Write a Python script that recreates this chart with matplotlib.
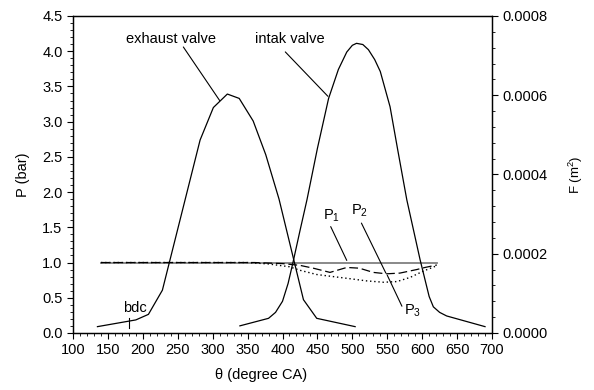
import matplotlib
matplotlib.use('Agg')
import numpy as np
import matplotlib.pyplot as plt
from matplotlib.ticker import MultipleLocator, FormatStrFormatter

plt.rcParams['font.family'] = ['Liberation Sans', 'DejaVu Sans']
plt.rcParams['mathtext.default'] = 'regular'
plt.rcParams['font.size'] = 10.5

# valve flow areas (m^2) vs crank angle
exh_theta = [135, 190, 208, 228, 282, 301, 321, 338, 358, 376, 395, 430, 449, 504]
exh_F = [0.000016, 0.000033, 0.000047, 0.000108, 0.000487, 0.000569, 0.000603,
         0.000592, 0.000535, 0.000450, 0.000338, 0.000084, 0.000037, 0.000016]

int_theta = [339, 380, 390, 400, 408, 415, 425, 435, 450, 466, 480, 492, 500, 506,
             515, 523, 532, 540, 554, 565, 578, 597, 610, 616, 625, 635, 690]
int_F = [0.000018, 0.000037, 0.000052, 0.000080, 0.000125, 0.000178, 0.000258,
         0.000336, 0.000466, 0.000592, 0.000665, 0.000709, 0.000726, 0.000731,
         0.000728, 0.000715, 0.000690, 0.000660, 0.000571, 0.000462, 0.000336,
         0.000185, 0.000092, 0.000066, 0.000052, 0.000043, 0.000016]

# pressures (bar)
p1_theta = [140, 621]
p1 = [1.0, 1.0]
p2_theta = [140, 360, 400, 425, 444, 468, 492, 510, 530, 549, 568, 592, 604, 621]
p2 = [1.0, 1.0, 0.985, 0.96, 0.92, 0.86, 0.93, 0.92, 0.86, 0.84, 0.85, 0.90, 0.93, 0.965]
p3_theta = [140, 350, 380, 410, 425, 449, 473, 497, 520, 545, 564, 583, 602, 621]
p3 = [1.0, 1.0, 0.98, 0.94, 0.89, 0.83, 0.80, 0.77, 0.74, 0.72, 0.73, 0.79, 0.88, 0.955]

bdc = 180

fig = plt.figure(figsize=(5.94, 3.9), dpi=100)
ax = fig.add_axes([0.1229, 0.1462, 0.7054, 0.8128])
ax2 = ax.twinx()

ax.plot(p1_theta, p1, color='#808080', lw=1.3)
ax.plot(p2_theta, p2, color='black', lw=0.9, ls=(0, (7, 3)))
ax.plot(p3_theta, p3, color='black', lw=1.0, ls=(0, (1, 2)))
ax.plot([bdc, bdc], [0.07, 0.21], color='black', lw=0.8)

ax2.plot(exh_theta, exh_F, color='black', lw=0.9)
ax2.plot(int_theta, int_F, color='black', lw=0.9)

ax.set_xlim(100, 700)
ax.set_ylim(0, 4.5)
ax2.set_ylim(0, 0.0008)

ax.xaxis.set_major_locator(MultipleLocator(50))
ax.xaxis.set_minor_locator(MultipleLocator(10))
ax.yaxis.set_major_locator(MultipleLocator(0.5))
ax.yaxis.set_minor_locator(MultipleLocator(0.1))
ax.yaxis.set_major_formatter(FormatStrFormatter('%.1f'))
ax2.yaxis.set_major_locator(MultipleLocator(0.0002))
ax2.yaxis.set_minor_locator(MultipleLocator(0.00004))
ax2.yaxis.set_major_formatter(FormatStrFormatter('%.4f'))

for a in (ax, ax2):
    a.tick_params(which='major', direction='out', length=4, width=0.8, labelsize=10.5)
    a.tick_params(which='minor', direction='out', length=2, width=0.6)
    for s in a.spines.values():
        s.set_linewidth(0.9)
ax.tick_params(top=False, right=False, which='both')

ax.set_ylabel('P (bar)', fontsize=10.5, labelpad=9)
ax2.set_ylabel('F (m$^2$)', fontsize=9.5, labelpad=14)
fig.text(0.44, 0.02, 'θ (degree CA)', fontsize=10.5, ha='center', va='bottom')

lk = dict(arrowprops=dict(arrowstyle='-', color='black', lw=0.8, shrinkA=0, shrinkB=0))
ax.annotate('', xy=(310, 3.30), xytext=(258, 4.06), **lk)
ax.text(240, 4.17, 'exhaust valve', ha='center', va='center')
ax.annotate('', xy=(465, 3.36), xytext=(404, 3.99), **lk)
ax.text(410, 4.17, 'intak valve', ha='center', va='center')
ax.annotate('', xy=(492, 1.03), xytext=(469, 1.51), **lk)
ax.text(470, 1.67, 'P$_1$', ha='center', va='center')
ax.annotate('', xy=(548, 0.85), xytext=(513, 1.56), **lk)
ax.text(511, 1.73, 'P$_2$', ha='center', va='center')
ax.annotate('', xy=(550, 0.82), xytext=(571, 0.38), **lk)
ax.text(586, 0.32, 'P$_3$', ha='center', va='center')
ax.text(189, 0.35, 'bdc', ha='center', va='center')

fig.savefig('out.png', dpi=100)
